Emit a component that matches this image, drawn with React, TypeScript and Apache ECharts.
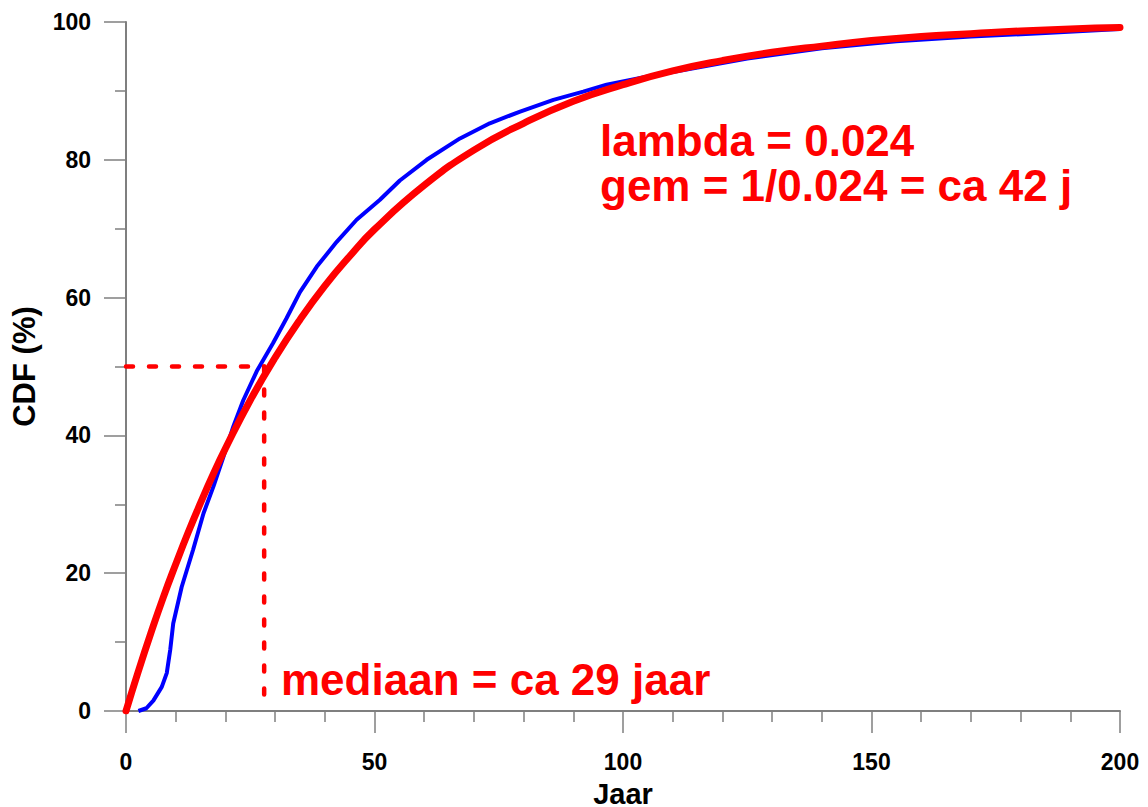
import React, { useEffect, useRef } from "react";
import * as echarts from "echarts";

// Empirical CDF (blue): [jaar, %]
const empiricalCdf: [number, number][] = [
  [2.5, 0], [4.1, 0.4], [5.5, 1.5], [7.2, 3.5], [8.2, 5.5], [8.9, 8.9],
  [9.5, 12.7], [11.2, 18], [13.5, 23.4], [15.6, 28.7], [17.6, 32.6],
  [19.6, 36.9], [21.6, 41.3], [23.6, 45.1], [26.3, 49.3], [29.6, 53.4],
  [32.3, 57], [35, 60.8], [38.4, 64.5], [42.4, 68.1], [46.4, 71.3],
  [51.1, 74.2], [55.1, 77.0], [60.5, 80], [67.2, 83.1], [73.2, 85.3],
  [79.3, 87], [86, 88.7], [92, 89.9], [96.7, 90.9], [105, 92.1],
  [115, 93.4], [125, 94.7], [140, 96.2], [155, 97.2], [170, 97.9],
  [185, 98.4], [200, 99.0],
];

// Fitted exponential CDF (red): [jaar, %]
const fittedCdf: [number, number][] = [
  [0, 0], [2.5, 5.8], [5, 11.3], [7.5, 16.5], [10, 21.3], [12.5, 25.9],
  [15, 30.2], [17.5, 34.3], [20, 38.1], [25, 45.1], [30, 51.3], [35, 56.8],
  [40, 61.7], [45, 66.0], [50, 69.9], [60, 76.3], [70, 81.4], [80, 85.3],
  [90, 88.5], [100, 90.9], [110, 92.9], [120, 94.4], [130, 95.6],
  [140, 96.5], [150, 97.3], [160, 97.9], [170, 98.3], [180, 98.7],
  [190, 99.0], [200, 99.2],
];

// Median guide lines
const medianYear = 27.8;
const medianPct = 50;
const medianHorizontal: [number, number][] = [[0, medianPct], [medianYear, medianPct]];
const medianVertical: [number, number][] = [[medianYear, medianPct], [medianYear, 0]];

const annotationLines = ["lambda = 0.024", "gem = 1/0.024 = ca 42 j"];
const medianLabel = "mediaan = ca 29 jaar";

const FONT = "'Liberation Sans', Arial, Helvetica, sans-serif";
const RED = "#ff0000";
const AXIS_GRAY = "#7f7f7f";

export default function App() {
  const ref = useRef<HTMLDivElement>(null);

  useEffect(() => {
    document.body.style.margin = "0";
    if (!ref.current) return;
    const chart = echarts.init(ref.current, undefined, { renderer: "svg" });

    const axisCommon = {
      axisLine: { show: true, lineStyle: { color: AXIS_GRAY, width: 2 } },
      axisTick: { show: true, inside: false, length: 22, lineStyle: { color: AXIS_GRAY, width: 1.5 } },
      minorTick: { show: true, length: 11, lineStyle: { color: AXIS_GRAY, width: 1.5 } },
      splitLine: { show: false },
      minorSplitLine: { show: false },
    };

    chart.setOption({
      animation: false,
      backgroundColor: "#ffffff",
      grid: {
        left: 126,
        right: 28,
        top: 22,
        bottom: 96,
        containLabel: false,
        outerBoundsMode: "none",
      },
      xAxis: {
        type: "value",
        min: 0,
        max: 200,
        interval: 50,
        ...axisCommon,
        minorTick: { ...axisCommon.minorTick, splitNumber: 5 },
        axisLabel: {
          margin: 39,
          fontFamily: FONT,
          fontWeight: "bold",
          fontSize: 23,
          color: "#000",
        },
        name: "Jaar",
        nameLocation: "middle",
        nameGap: 61,
        nameTextStyle: {
          fontFamily: FONT,
          fontWeight: "bold",
          fontSize: 29,
          lineHeight: 32,
          color: "#000",
        },
      },
      yAxis: {
        type: "value",
        min: 0,
        max: 100,
        interval: 20,
        ...axisCommon,
        minorTick: { ...axisCommon.minorTick, splitNumber: 2 },
        axisLabel: {
          margin: 35,
          fontFamily: FONT,
          fontWeight: "bold",
          fontSize: 23,
          color: "#000",
        },
        name: "CDF (%)",
        nameLocation: "middle",
        nameGap: 86,
        nameTextStyle: { fontFamily: FONT, fontWeight: "bold", fontSize: 31, color: "#000" },
      },
      series: [
        {
          type: "line",
          data: empiricalCdf,
          showSymbol: false,
          lineStyle: { color: "#0000ff", width: 4 },
          z: 2,
        },
        {
          type: "line",
          data: fittedCdf,
          smooth: true,
          showSymbol: false,
          lineStyle: { color: RED, width: 7, cap: "round" },
          z: 3,
        },
        {
          type: "line",
          data: medianHorizontal,
          showSymbol: false,
          lineStyle: { color: RED, width: 4.5, type: [7, 16], cap: "round" },
          z: 4,
        },
        {
          type: "line",
          data: medianVertical,
          showSymbol: false,
          lineStyle: { color: RED, width: 4.5, type: [6, 17], cap: "round" },
          z: 4,
        },
      ],
      graphic: [
        ...annotationLines.map((t, i) => ({
          type: "text",
          left: 600,
          top: 118 + i * 45,
          style: {
            text: t,
            fill: RED,
            font: `bold 44px ${FONT}`,
          },
          z: 10,
        })),
        {
          type: "text",
          left: 281,
          top: 657,
          style: { text: medianLabel, fill: RED, font: `bold 44px ${FONT}` },
          z: 10,
        },
      ],
    });

    return () => chart.dispose();
  }, []);

  return <div ref={ref} style={{ width: 1148, height: 807 }} />;
}
